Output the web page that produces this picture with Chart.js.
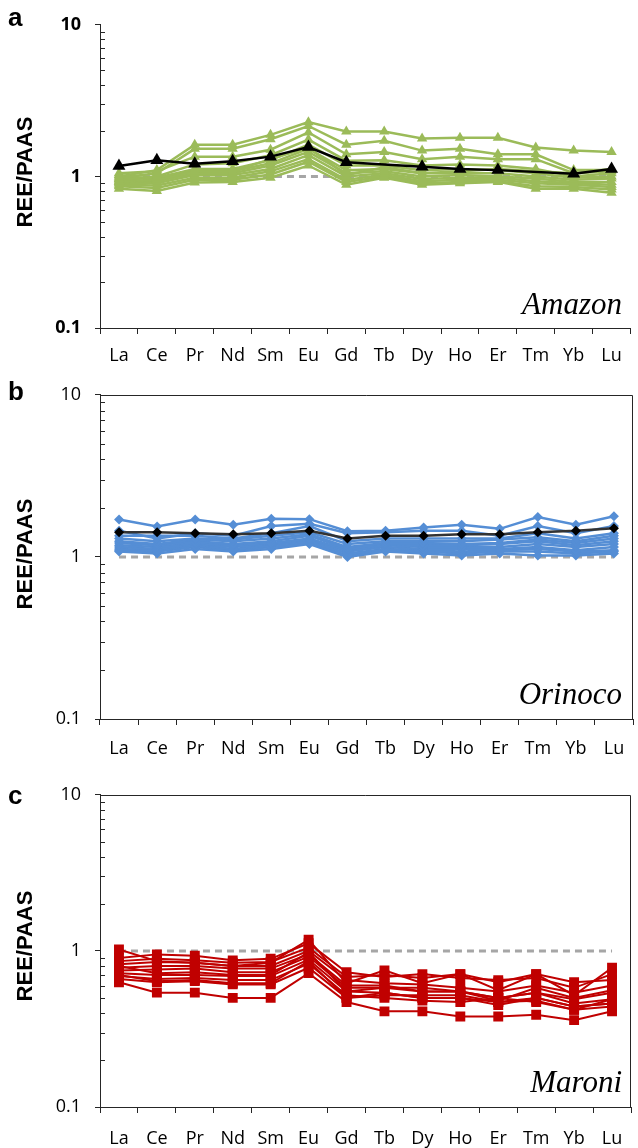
<!DOCTYPE html>
<html>
<head>
<meta charset="utf-8">
<script src="https://cdn.jsdelivr.net/npm/chart.js@4.4.1/dist/chart.umd.min.js"></script>
<style>
  body { margin: 0; background: #fff; }
  #wrap { position: relative; width: 638px; height: 1148px; overflow: hidden; }
  canvas { position: absolute; left: 0; }
  .letter { position: absolute; font: bold 26px "Liberation Sans", Arial, sans-serif; color: #000; }
  .ytitle { position: absolute; font: bold 22px "Liberation Sans", Arial, sans-serif; color: #000;
            transform: translate(-50%, -50%) rotate(-90deg); white-space: nowrap; }
  .river { position: absolute; font: italic 31px "Liberation Serif", "Times New Roman", serif; color: #000; }
</style>
</head>
<body>
<div id="wrap">
  <canvas id="chartA" width="638" height="370" style="top:0px"></canvas>
  <canvas id="chartB" width="638" height="400" style="top:370px"></canvas>
  <canvas id="chartC" width="638" height="378" style="top:770px"></canvas>

  <div class="letter" style="left:8px;top:2px">a</div>
  <div class="letter" style="left:8px;top:376px">b</div>
  <div class="letter" style="left:8px;top:780px">c</div>

  <div class="ytitle" style="left:25px;top:172px">REE/PAAS</div>
  <div class="ytitle" style="left:25px;top:554px">REE/PAAS</div>
  <div class="ytitle" style="left:25px;top:946px">REE/PAAS</div>

  <div class="river" style="right:16px;top:286px">Amazon</div>
  <div class="river" style="right:16px;top:676px">Orinoco</div>
  <div class="river" style="right:16px;top:1064px">Maroni</div>
</div>
<script>
// rare earth elements on the x axis
const elements = ['La','Ce','Pr','Nd','Sm','Eu','Gd','Tb','Dy','Ho','Er','Tm','Yb','Lu'];
const yTickValues = [0.1,0.2,0.3,0.4,0.5,0.6,0.7,0.8,0.9,1,2,3,4,5,6,7,8,9,10];
const yMajorLabels = {0.1: '0.1', 1: '1', 10: '10'};
const paasLine = [1,1,1,1,1,1,1,1,1,1,1,1,1,1];

// a - Amazon
const amazonMean = [1.17,1.28,1.21,1.26,1.35,1.56,1.24,null,1.16,1.12,1.10,null,1.04,1.12];
const amazonSamples = [
  [1.00,1.10,1.62,1.62,1.88,2.28,1.98,1.98,1.78,1.80,1.80,1.55,1.48,1.45],
  [0.98,1.05,1.52,1.52,1.76,2.15,1.62,1.72,1.48,1.52,1.40,1.40,1.10,1.10],
  [1.05,1.08,1.35,1.35,1.50,1.95,1.40,1.45,1.30,1.35,1.30,1.30,1.05,1.08],
  [0.96,1.00,1.20,1.22,1.38,1.75,1.27,1.28,1.18,1.20,1.18,1.12,1.00,1.05],
  [0.95,0.98,1.12,1.12,1.28,1.62,1.18,1.18,1.10,1.12,1.10,1.05,0.98,1.00],
  [0.93,0.95,1.08,1.08,1.22,1.52,1.10,1.12,1.05,1.05,1.05,1.00,0.95,0.97],
  [0.92,0.93,1.05,1.05,1.18,1.45,1.05,1.08,1.00,1.02,1.00,0.97,0.92,0.92],
  [0.90,0.90,1.02,1.02,1.12,1.38,1.00,1.05,0.96,0.98,0.98,0.93,0.90,0.88],
  [0.88,0.87,0.98,0.98,1.08,1.30,0.95,1.02,0.93,0.95,0.95,0.90,0.88,0.85],
  [0.86,0.84,0.95,0.95,1.03,1.25,0.92,1.00,0.90,0.92,0.93,0.86,0.85,0.82],
  [0.83,0.80,0.91,0.92,0.98,1.18,0.88,0.98,0.88,0.90,0.92,0.83,0.83,0.78],
  [1.02,0.95,1.10,1.08,1.30,1.55,1.02,1.15,1.05,1.08,1.12,1.08,1.05,1.12]
];

// b - Orinoco
const orinocoMean = [1.42,1.42,1.40,1.38,1.40,1.45,1.30,1.35,1.35,1.38,1.38,1.42,1.45,1.50];
const orinocoSamples = [
  [1.70,1.54,1.70,1.58,1.72,1.71,1.44,1.45,1.52,1.58,1.49,1.76,1.58,1.78],
  [1.45,1.30,1.40,1.35,1.55,1.60,1.40,1.42,1.45,1.45,1.35,1.55,1.40,1.55],
  [1.35,1.35,1.35,1.30,1.40,1.55,1.25,1.30,1.30,1.30,1.30,1.40,1.30,1.40],
  [1.30,1.25,1.30,1.28,1.35,1.42,1.20,1.25,1.25,1.25,1.28,1.32,1.25,1.35],
  [1.25,1.20,1.28,1.25,1.30,1.38,1.15,1.22,1.22,1.20,1.22,1.28,1.22,1.30],
  [1.22,1.18,1.25,1.20,1.25,1.35,1.12,1.20,1.18,1.18,1.20,1.25,1.18,1.25],
  [1.18,1.15,1.22,1.18,1.22,1.30,1.10,1.18,1.15,1.15,1.15,1.20,1.15,1.20],
  [1.15,1.12,1.20,1.15,1.20,1.28,1.08,1.15,1.12,1.12,1.12,1.15,1.10,1.15],
  [1.12,1.10,1.18,1.12,1.18,1.25,1.05,1.12,1.10,1.08,1.10,1.12,1.08,1.10],
  [1.10,1.08,1.15,1.10,1.15,1.22,1.02,1.10,1.08,1.05,1.08,1.08,1.05,1.08],
  [1.08,1.05,1.12,1.08,1.12,1.20,1.00,1.08,1.05,1.02,1.05,1.02,1.02,1.05]
];

// c - Maroni
const maroniSamples = [
  [1.02,0.86,0.84,0.80,0.84,1.18,0.62,0.75,0.62,0.71,0.56,0.71,0.52,0.78],
  [0.90,0.95,0.93,0.87,0.89,1.12,0.73,0.68,0.71,0.67,0.65,0.67,0.58,0.71],
  [0.86,0.89,0.87,0.84,0.85,1.05,0.68,0.70,0.67,0.71,0.63,0.71,0.63,0.65],
  [0.82,0.85,0.84,0.80,0.80,1.00,0.65,0.62,0.61,0.58,0.55,0.60,0.54,0.60],
  [0.78,0.80,0.80,0.77,0.77,0.95,0.60,0.60,0.55,0.55,0.50,0.54,0.49,0.54],
  [0.75,0.76,0.77,0.73,0.73,0.92,0.58,0.58,0.55,0.55,0.50,0.54,0.46,0.49],
  [0.72,0.70,0.70,0.69,0.69,0.88,0.55,0.54,0.50,0.50,0.47,0.50,0.44,0.46],
  [0.69,0.66,0.67,0.65,0.65,0.83,0.52,0.50,0.48,0.47,0.50,0.47,0.42,0.49],
  [0.66,0.63,0.64,0.61,0.61,0.78,0.50,0.54,0.50,0.50,0.45,0.50,0.44,0.46],
  [0.63,0.54,0.54,0.50,0.50,0.72,0.47,0.41,0.41,0.38,0.38,0.39,0.36,0.41],
  [0.80,0.72,0.73,0.70,0.70,0.98,0.55,0.58,0.58,0.55,0.48,0.58,0.50,0.56],
  [0.70,0.64,0.65,0.62,0.62,0.86,0.50,0.52,0.52,0.52,0.47,0.48,0.42,0.44]
];

const AXIS = '#262626';

// minor ticks point inward, optional box round the plot
const frameAndMinor = {
  id: 'frameAndMinor',
  afterDraw(chart, args, opts) {
    const ctx = chart.ctx, a = chart.chartArea, y = chart.scales.y;
    ctx.save();
    ctx.strokeStyle = AXIS;
    ctx.lineWidth = 1;
    y.ticks.forEach(t => {
      if (yMajorLabels[t.value]) return;
      const py = Math.round(y.getPixelForValue(t.value)) + 0.5;
      ctx.beginPath();
      ctx.moveTo(a.left, py);
      ctx.lineTo(a.left + 5, py);
      ctx.stroke();
    });
    if (opts.box) {
      ctx.beginPath();
      ctx.moveTo(a.left, Math.round(a.top) + 0.5);
      ctx.lineTo(Math.round(a.right) - 0.5, Math.round(a.top) + 0.5);
      ctx.lineTo(Math.round(a.right) - 0.5, a.bottom);
      ctx.stroke();
    }
    ctx.restore();
  }
};

function makePanel(id, cfg) {
  const datasets = [];
  if (cfg.mean) {
    datasets.push({
      data: cfg.mean, borderColor: cfg.meanLine, backgroundColor: '#000',
      pointBackgroundColor: '#000', pointBorderColor: '#000',
      borderWidth: 2.5, pointStyle: cfg.marker, pointRadius: cfg.meanRadius,
      pointBorderWidth: 0, spanGaps: true
    });
  }
  cfg.samples.forEach(s => datasets.push({
    data: s, borderColor: cfg.color, backgroundColor: cfg.color,
    pointBackgroundColor: cfg.color, pointBorderColor: cfg.color,
    borderWidth: cfg.lineWidth, pointStyle: cfg.marker, pointRadius: cfg.radius,
    pointBorderWidth: 0
  }));
  datasets.push({
    data: paasLine, borderColor: '#a6a6a6', borderWidth: 3, borderDash: [7, 5],
    pointRadius: 0
  });

  new Chart(document.getElementById(id), {
    type: 'line',
    data: { labels: elements, datasets: datasets },
    options: {
      responsive: false,
      animation: false,
      devicePixelRatio: 1,
      layout: { padding: { top: cfg.top, right: 1, left: 0, bottom: 0 } },
      plugins: { legend: { display: false }, tooltip: { enabled: false },
                 frameAndMinor: { box: cfg.box } },
      scales: {
        x: {
          type: 'category',
          offset: true,
          grid: { offset: true, drawOnChartArea: false, tickLength: 6, color: AXIS },
          border: { color: AXIS, width: 1 },
          ticks: { color: '#000', padding: cfg.xPad, maxRotation: 0, autoSkip: false,
                   font: { family: '"Open Sans", "Liberation Sans", sans-serif', size: 18 } },
          afterFit: s => { s.height = cfg.xHeight; }
        },
        y: {
          type: 'logarithmic',
          min: 0.1, max: 10,
          afterBuildTicks: s => { s.ticks = yTickValues.map(v => ({ value: v })); },
          grid: { drawOnChartArea: false, tickLength: 5,
                  color: c => (c.tick && yMajorLabels[c.tick.value]) ? AXIS : 'rgba(0,0,0,0)' },
          border: { color: AXIS, width: 1 },
          ticks: {
            color: '#000', padding: 14, autoSkip: false,
            font: { family: '"Open Sans", "Liberation Sans", sans-serif', size: 18, weight: cfg.yBold ? 'bold' : 'normal' },
            callback: v => yMajorLabels[v] || ''
          },
          afterFit: s => { s.width = 100; }
        }
      }
    },
    plugins: [frameAndMinor]
  });
}

makePanel('chartA', {
  samples: amazonSamples, mean: amazonMean, color: '#9bbb59', meanLine: '#000',
  marker: 'triangle', radius: 6, meanRadius: 7.5, lineWidth: 2.5,
  top: 20, xHeight: 42, xPad: 11, box: false, yBold: true
});
makePanel('chartB', {
  samples: orinocoSamples, mean: orinocoMean, color: '#558ed5', meanLine: '#333333',
  marker: 'rectRot', radius: 5, meanRadius: 5, lineWidth: 2.5,
  top: 19, xHeight: 51, xPad: 13, box: true, yBold: false
});
makePanel('chartC', {
  samples: maroniSamples, mean: null, color: '#c00000', meanLine: '#000',
  marker: 'rect', radius: 7, meanRadius: 7, lineWidth: 2,
  top: 16, xHeight: 41, xPad: 15, box: true, yBold: false
});
</script>
</body>
</html>
